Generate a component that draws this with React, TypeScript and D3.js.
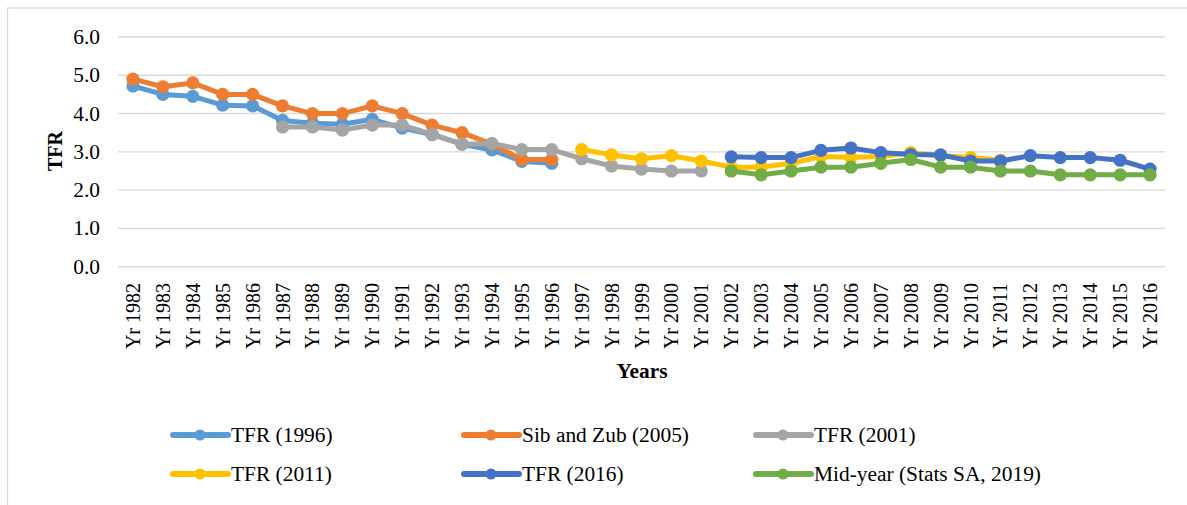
import React from "react";
import * as d3 from "d3";

const years: string[] = d3.range(1982, 2017).map((y) => `Yr ${y}`);
const yTicks: number[] = [0, 1, 2, 3, 4, 5, 6];

// values start at the given year
const tfr1996Start = 1982;
const tfr1996: number[] = [4.72, 4.5, 4.45, 4.22, 4.2, 3.82, 3.75, 3.72, 3.85, 3.62, 3.45, 3.2, 3.05, 2.75, 2.7];
const sibZubStart = 1982;
const sibZub: number[] = [4.9, 4.7, 4.8, 4.5, 4.5, 4.2, 4.0, 4.0, 4.2, 4.0, 3.7, 3.5, 3.2, 2.8, 2.8];
const tfr2001Start = 1987;
const tfr2001: number[] = [3.65, 3.65, 3.57, 3.7, 3.7, 3.46, 3.2, 3.22, 3.06, 3.06, 2.82, 2.63, 2.55, 2.5, 2.5];
const tfr2011Start = 1997;
const tfr2011: number[] = [3.06, 2.92, 2.82, 2.9, 2.76, 2.6, 2.6, 2.7, 2.88, 2.86, 2.88, 2.98, 2.9, 2.85, 2.78];
const tfr2016Start = 2002;
const tfr2016: number[] = [2.87, 2.85, 2.85, 3.04, 3.1, 2.98, 2.93, 2.92, 2.76, 2.76, 2.9, 2.85, 2.85, 2.78, 2.55];
const midYearStart = 2002;
const midYear: number[] = [2.5, 2.4, 2.5, 2.6, 2.6, 2.7, 2.8, 2.6, 2.6, 2.5, 2.5, 2.4, 2.4, 2.4, 2.4];

const seriesNames: string[] = [
  "TFR (1996)",
  "Sib and Zub (2005)",
  "TFR (2001)",
  "TFR (2011)",
  "TFR (2016)",
  "Mid-year (Stats SA, 2019)",
];
const seriesColors: string[] = ["#5B9BD5", "#ED7D31", "#A5A5A5", "#FFC000", "#4472C4", "#70AD47"];
const seriesData: number[][] = [tfr1996, sibZub, tfr2001, tfr2011, tfr2016, midYear];
const seriesStarts: number[] = [tfr1996Start, sibZubStart, tfr2001Start, tfr2011Start, tfr2016Start, midYearStart];

const FONT = "'Liberation Serif', 'Times New Roman', serif";
const SX = 1.07;

export default function App() {
  const x = d3.scalePoint<string>().domain(years).range([118, 1165]).padding(0.5);
  const y = d3.scaleLinear().domain([0, 6]).range([266.7, 37]);
  const line = d3
    .line<[string, number]>()
    .x((d) => x(d[0]) as number)
    .y((d) => y(d[1]));

  const series = seriesData.map((vals, i) =>
    vals.map((v, j) => [`Yr ${seriesStarts[i] + j}`, v] as [string, number])
  );

  const legendCols = [170, 461, 753];
  const legendRows = [435, 474];

  return (
    <svg
      width={1187}
      height={505}
      style={{ position: "absolute", left: 0, top: 0, background: "#fff" }}
    >
      <rect x={7.5} y={8} width={1200} height={520} fill="#fff" stroke="#D9D9D9" strokeWidth={1.3} />
      {yTicks.map((t) => (
        <g key={t}>
          <line x1={118} x2={1165} y1={y(t)} y2={y(t)} stroke="#D9D9D9" strokeWidth={1.4} />
          <text
            transform={`translate(100,${y(t) + 7}) scale(${SX},1)`}
            textAnchor="end"
            fontFamily={FONT}
            fontSize={20}
            fill="#000"
          >
            {d3.format(".1f")(t)}
          </text>
        </g>
      ))}
      {years.map((yr) => (
        <text
          key={yr}
          transform={`translate(${(x(yr) as number) + 7},283) rotate(-90)`}
          textAnchor="end"
          fontFamily={FONT}
          fontSize={20}
          fill="#000"
        >
          {yr}
        </text>
      ))}
      <text
        transform={`translate(61.5,151) rotate(-90)`}
        textAnchor="middle"
        fontFamily={FONT}
        fontSize={20}
        fontWeight="bold"
      >
        TFR
      </text>
      <text
        transform={`translate(642,378) scale(${SX},1)`}
        textAnchor="middle"
        fontFamily={FONT}
        fontSize={20}
        fontWeight="bold"
      >
        Years
      </text>
      {series.map((pts, i) => (
        <g key={i}>
          <path d={line(pts) || ""} fill="none" stroke={seriesColors[i]} strokeWidth={5} strokeLinejoin="round" />
          {pts.map((p, j) => (
            <circle key={j} cx={x(p[0]) as number} cy={y(p[1])} r={6.6} fill={seriesColors[i]} />
          ))}
        </g>
      ))}
      {seriesNames.map((name, i) => {
        const cx = legendCols[i % 3];
        const cy = legendRows[Math.floor(i / 3)];
        return (
          <g key={name}>
            <line x1={cx + 3} x2={cx + 58} y1={cy} y2={cy} stroke={seriesColors[i]} strokeWidth={6} strokeLinecap="round" />
            <circle cx={cx + 30} cy={cy} r={5.5} fill={seriesColors[i]} />
            <text
              transform={`translate(${cx + 61},${cy + 7}) scale(${SX},1)`}
              fontFamily={FONT}
              fontSize={20}
              fill="#000"
            >
              {name}
            </text>
          </g>
        );
      })}
    </svg>
  );
}
